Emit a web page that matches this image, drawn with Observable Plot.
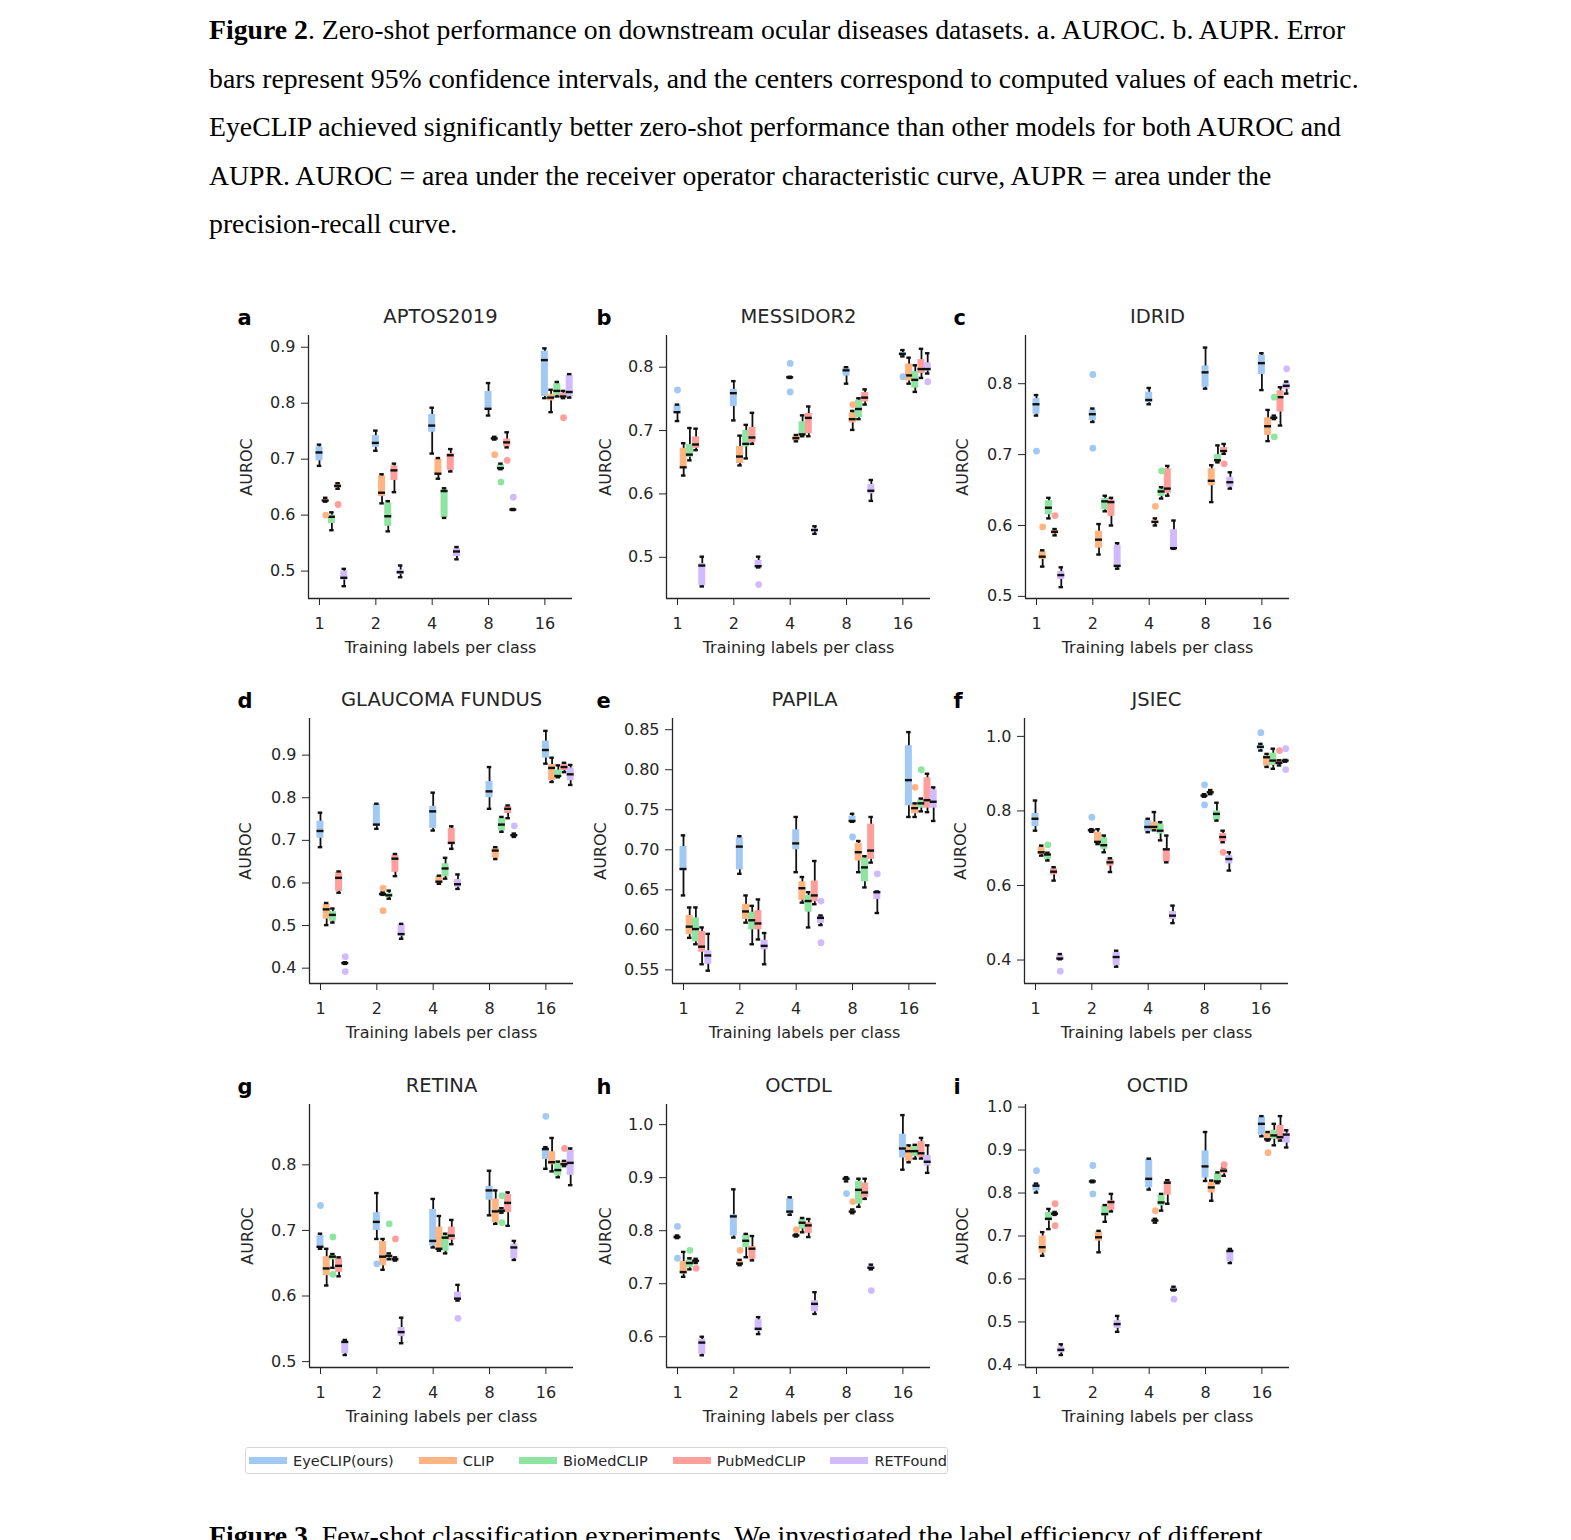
<!DOCTYPE html>
<html>
<head>
<meta charset="utf-8">
<script src="https://cdn.jsdelivr.net/npm/d3@7"></script>
<script src="https://cdn.jsdelivr.net/npm/@observablehq/plot@0.6"></script>
<style>
  html, body { margin: 0; padding: 0; background: #fff; }
  body { width: 1571px; height: 1540px; position: relative; overflow: hidden; }
  .panel { position: absolute; }
  #caption { position: absolute; left: 0; top: 0; }
  #legend { position: absolute; left: 245px; top: 1447px; width: 703px; height: 27px; box-sizing: border-box;
    border: 1px solid #d6d6d6; border-radius: 3px; display: flex; align-items: center; padding-left: 3px; gap: 25px;
    font-family: "DejaVu Sans"; font-size: 14.5px; color: #262626; }
  #legend .item { display: flex; align-items: center; gap: 6px; }
  #legend .sw { width: 38px; height: 7px; }
</style>
</head>
<body>
<svg id="caption" width="1571" height="1540" font-family="Liberation Serif" font-size="27.75" fill="#000">
  <text x="209" y="39"><tspan font-weight="bold">Figure 2</tspan>. Zero-shot performance on downstream ocular diseases datasets. a. AUROC. b. AUPR. Error</text>
  <text x="209" y="88">bars represent 95% confidence intervals, and the centers correspond to computed values of each metric.</text>
  <text x="209" y="136">EyeCLIP achieved significantly better zero-shot performance than other models for both AUROC and</text>
  <text x="209" y="185">AUPR. AUROC = area under the receiver operator characteristic curve, AUPR = area under the</text>
  <text x="209" y="233">precision-recall curve.</text>
  <text x="209" y="1545"><tspan font-weight="bold">Figure 3</tspan>. Few-shot classification experiments. We investigated the label efficiency of different</text>
</svg>
<div id="panels"></div>
<div id="legend"></div>
<script>
// ---------------- data ----------------
const shots = [1, 2, 4, 8, 16];
const models = ["EyeCLIP(ours)", "CLIP", "BioMedCLIP", "PubMedCLIP", "RETFound"];
const modelColors = ["#a1c9f4", "#ffb482", "#8de5a1", "#ff9f9b", "#d0bbff"];
const datasetNames = ["APTOS2019", "MESSIDOR2", "IDRID", "GLAUCOMA FUNDUS", "PAPILA", "JSIEC", "RETINA", "OCTDL", "OCTID"];
const panelLetters = ["a", "b", "c", "d", "e", "f", "g", "h", "i"];
const yLabel = "AUROC";
const xLabel = "Training labels per class";

// rows: shot 1..16, each 5 models; [whisker low, q1, median, q3, whisker high, [outliers]]
const aptos2019 = [
  [0.688, 0.697, 0.712, 0.722, 0.726], [0.624, 0.625, 0.626, 0.628, 0.631, [0.600]], [0.573, 0.585, 0.597, 0.600, 0.605], [0.647, 0.649, 0.652, 0.655, 0.657, [0.619]], [0.473, 0.484, 0.488, 0.500, 0.504],
  [0.715, 0.721, 0.729, 0.742, 0.751], [0.621, 0.633, 0.640, 0.670, 0.673], [0.571, 0.580, 0.598, 0.622, 0.625], [0.641, 0.662, 0.680, 0.688, 0.692], [0.489, 0.494, 0.498, 0.502, 0.510],
  [0.710, 0.748, 0.760, 0.780, 0.792], [0.665, 0.672, 0.674, 0.700, 0.702], [0.595, 0.596, 0.643, 0.645, 0.648], [0.678, 0.680, 0.707, 0.710, 0.718], [0.521, 0.526, 0.535, 0.540, 0.543],
  [0.778, 0.789, 0.790, 0.821, 0.836], [0.735, 0.736, 0.737, 0.739, 0.740, [0.708]], [0.682, 0.683, 0.684, 0.690, 0.692, [0.659]], [0.721, 0.722, 0.730, 0.736, 0.748, [0.698]], [0.609, 0.609, 0.610, 0.610, 0.611, [0.632]],
  [0.809, 0.812, 0.877, 0.893, 0.898], [0.784, 0.804, 0.810, 0.816, 0.824], [0.812, 0.814, 0.822, 0.835, 0.838], [0.809, 0.810, 0.812, 0.818, 0.822, [0.774]], [0.810, 0.812, 0.820, 0.850, 0.852]
];
const messidor2 = [
  [0.715, 0.728, 0.729, 0.740, 0.741, [0.764]], [0.629, 0.640, 0.642, 0.672, 0.680], [0.653, 0.658, 0.662, 0.678, 0.704], [0.669, 0.672, 0.678, 0.690, 0.703], [0.454, 0.455, 0.487, 0.490, 0.501],
  [0.716, 0.738, 0.759, 0.765, 0.778], [0.645, 0.648, 0.659, 0.675, 0.692], [0.656, 0.674, 0.679, 0.700, 0.709], [0.679, 0.681, 0.689, 0.705, 0.728], [0.484, 0.485, 0.486, 0.495, 0.501, [0.457]],
  [0.783, 0.783, 0.784, 0.785, 0.785, [0.806, 0.761]], [0.683, 0.684, 0.688, 0.691, 0.693], [0.691, 0.693, 0.694, 0.714, 0.724], [0.691, 0.695, 0.720, 0.727, 0.738], [0.537, 0.540, 0.543, 0.545, 0.549],
  [0.774, 0.786, 0.795, 0.799, 0.800], [0.701, 0.712, 0.718, 0.728, 0.731, [0.741]], [0.718, 0.720, 0.734, 0.748, 0.751], [0.741, 0.745, 0.752, 0.760, 0.765], [0.589, 0.600, 0.605, 0.615, 0.622],
  [0.817, 0.818, 0.821, 0.823, 0.827, [0.785]], [0.774, 0.778, 0.787, 0.805, 0.815], [0.761, 0.767, 0.780, 0.793, 0.803], [0.783, 0.790, 0.797, 0.812, 0.829], [0.790, 0.794, 0.797, 0.807, 0.822, [0.777]]
];
const idrid = [
  [0.755, 0.757, 0.771, 0.779, 0.784, [0.705]], [0.542, 0.552, 0.556, 0.563, 0.565, [0.598]], [0.610, 0.615, 0.625, 0.635, 0.639], [0.586, 0.588, 0.591, 0.593, 0.595, [0.614]], [0.513, 0.524, 0.530, 0.535, 0.541],
  [0.746, 0.748, 0.757, 0.763, 0.765, [0.813, 0.709]], [0.559, 0.568, 0.580, 0.592, 0.602], [0.620, 0.622, 0.634, 0.638, 0.642], [0.600, 0.613, 0.633, 0.636, 0.639], [0.539, 0.541, 0.543, 0.572, 0.575],
  [0.771, 0.773, 0.777, 0.788, 0.794], [0.600, 0.603, 0.605, 0.607, 0.610, [0.627]], [0.638, 0.641, 0.648, 0.651, 0.654, [0.677]], [0.642, 0.645, 0.652, 0.680, 0.684], [0.567, 0.567, 0.568, 0.594, 0.607],
  [0.793, 0.795, 0.816, 0.825, 0.851], [0.633, 0.656, 0.663, 0.680, 0.685], [0.689, 0.690, 0.692, 0.700, 0.713], [0.701, 0.703, 0.705, 0.710, 0.715, [0.687]], [0.652, 0.654, 0.661, 0.668, 0.675],
  [0.791, 0.813, 0.829, 0.840, 0.843], [0.719, 0.727, 0.740, 0.752, 0.763], [0.750, 0.751, 0.752, 0.753, 0.755, [0.781, 0.725]], [0.741, 0.760, 0.781, 0.790, 0.795], [0.786, 0.792, 0.797, 0.801, 0.803, [0.821]]
];
const glaucomaFundus = [
  [0.684, 0.705, 0.722, 0.745, 0.765], [0.501, 0.515, 0.538, 0.550, 0.553], [0.507, 0.510, 0.525, 0.533, 0.540], [0.577, 0.580, 0.612, 0.625, 0.627], [0.410, 0.411, 0.412, 0.413, 0.414, [0.427, 0.392]],
  [0.727, 0.733, 0.737, 0.785, 0.786], [0.572, 0.573, 0.574, 0.576, 0.578, [0.588, 0.535]], [0.563, 0.566, 0.571, 0.576, 0.582], [0.616, 0.625, 0.657, 0.665, 0.668], [0.469, 0.475, 0.480, 0.502, 0.504],
  [0.723, 0.728, 0.768, 0.780, 0.812], [0.598, 0.600, 0.603, 0.615, 0.617], [0.610, 0.615, 0.634, 0.645, 0.659], [0.680, 0.690, 0.694, 0.728, 0.733], [0.586, 0.590, 0.597, 0.608, 0.620],
  [0.774, 0.800, 0.815, 0.838, 0.872], [0.656, 0.658, 0.676, 0.682, 0.684], [0.720, 0.722, 0.737, 0.752, 0.755], [0.752, 0.763, 0.774, 0.780, 0.782], [0.708, 0.709, 0.712, 0.714, 0.716, [0.734]],
  [0.880, 0.893, 0.912, 0.933, 0.957], [0.837, 0.840, 0.870, 0.878, 0.894], [0.848, 0.849, 0.851, 0.865, 0.876], [0.860, 0.864, 0.872, 0.879, 0.882], [0.830, 0.840, 0.855, 0.870, 0.877]
];
const papila = [
  [0.643, 0.674, 0.676, 0.704, 0.718], [0.590, 0.594, 0.604, 0.618, 0.628], [0.582, 0.585, 0.601, 0.615, 0.628], [0.557, 0.572, 0.579, 0.598, 0.603], [0.549, 0.557, 0.568, 0.574, 0.595],
  [0.670, 0.675, 0.704, 0.715, 0.717], [0.609, 0.613, 0.623, 0.632, 0.643], [0.582, 0.600, 0.612, 0.622, 0.630], [0.588, 0.600, 0.608, 0.624, 0.638], [0.557, 0.575, 0.580, 0.587, 0.596],
  [0.672, 0.700, 0.708, 0.725, 0.741], [0.634, 0.637, 0.652, 0.660, 0.666], [0.603, 0.622, 0.636, 0.643, 0.647], [0.632, 0.635, 0.643, 0.661, 0.686], [0.606, 0.608, 0.615, 0.617, 0.618, [0.636, 0.584]],
  [0.735, 0.736, 0.736, 0.742, 0.745, [0.716]], [0.672, 0.686, 0.697, 0.708, 0.711], [0.653, 0.660, 0.678, 0.690, 0.692], [0.684, 0.688, 0.699, 0.732, 0.741], [0.621, 0.638, 0.647, 0.648, 0.648, [0.670]],
  [0.741, 0.755, 0.787, 0.830, 0.847], [0.741, 0.745, 0.752, 0.756, 0.758, [0.778]], [0.748, 0.752, 0.758, 0.762, 0.764, [0.800]], [0.747, 0.752, 0.762, 0.790, 0.795], [0.736, 0.752, 0.760, 0.775, 0.778]
];
const jsiec = [
  [0.747, 0.758, 0.779, 0.793, 0.828], [0.680, 0.683, 0.689, 0.703, 0.707], [0.667, 0.670, 0.683, 0.686, 0.688, [0.709]], [0.613, 0.628, 0.637, 0.645, 0.649], [0.402, 0.403, 0.404, 0.412, 0.416, [0.370]],
  [0.744, 0.746, 0.748, 0.750, 0.751, [0.783]], [0.711, 0.714, 0.717, 0.743, 0.751], [0.689, 0.697, 0.708, 0.728, 0.734], [0.636, 0.652, 0.662, 0.670, 0.673], [0.382, 0.385, 0.408, 0.420, 0.425],
  [0.743, 0.745, 0.757, 0.775, 0.779], [0.748, 0.750, 0.757, 0.770, 0.797], [0.721, 0.738, 0.747, 0.765, 0.770], [0.662, 0.663, 0.697, 0.699, 0.734], [0.499, 0.509, 0.519, 0.530, 0.546],
  [0.838, 0.839, 0.841, 0.843, 0.845, [0.870, 0.816]], [0.845, 0.847, 0.850, 0.853, 0.856], [0.774, 0.776, 0.792, 0.800, 0.822], [0.716, 0.718, 0.730, 0.740, 0.747, [0.689]], [0.640, 0.658, 0.671, 0.680, 0.689],
  [0.962, 0.965, 0.972, 0.976, 0.980, [1.010]], [0.918, 0.920, 0.944, 0.948, 0.953], [0.913, 0.922, 0.935, 0.955, 0.967], [0.922, 0.925, 0.929, 0.934, 0.936, [0.962]], [0.932, 0.933, 0.935, 0.936, 0.937, [0.967, 0.911]]
];
const retina = [
  [0.672, 0.674, 0.675, 0.692, 0.695, [0.738]], [0.616, 0.631, 0.642, 0.660, 0.672], [0.643, 0.655, 0.660, 0.662, 0.664, [0.690, 0.633]], [0.630, 0.636, 0.646, 0.657, 0.659], [0.510, 0.512, 0.530, 0.531, 0.533],
  [0.687, 0.700, 0.713, 0.727, 0.757, [0.649]], [0.640, 0.646, 0.660, 0.683, 0.687], [0.656, 0.658, 0.661, 0.663, 0.665, [0.710]], [0.654, 0.655, 0.656, 0.658, 0.659, [0.687]], [0.528, 0.538, 0.545, 0.552, 0.567],
  [0.674, 0.676, 0.684, 0.732, 0.748], [0.669, 0.670, 0.672, 0.705, 0.722], [0.665, 0.668, 0.689, 0.692, 0.695], [0.679, 0.685, 0.692, 0.705, 0.716], [0.593, 0.594, 0.596, 0.606, 0.617, [0.566]],
  [0.723, 0.746, 0.761, 0.767, 0.791], [0.710, 0.712, 0.729, 0.748, 0.761], [0.727, 0.728, 0.730, 0.732, 0.734, [0.753, 0.712]], [0.707, 0.727, 0.742, 0.755, 0.758], [0.655, 0.657, 0.674, 0.679, 0.684],
  [0.794, 0.808, 0.824, 0.826, 0.827, [0.874]], [0.790, 0.800, 0.804, 0.820, 0.841], [0.781, 0.783, 0.792, 0.802, 0.805], [0.798, 0.799, 0.801, 0.804, 0.806, [0.825]], [0.769, 0.784, 0.803, 0.822, 0.825]
];
const octdl = [
  [0.786, 0.787, 0.788, 0.790, 0.791, [0.808, 0.748]], [0.713, 0.718, 0.722, 0.742, 0.760], [0.727, 0.730, 0.739, 0.745, 0.748, [0.763]], [0.739, 0.741, 0.743, 0.745, 0.747, [0.729]], [0.565, 0.567, 0.589, 0.595, 0.600],
  [0.787, 0.790, 0.827, 0.830, 0.878], [0.735, 0.736, 0.738, 0.742, 0.745, [0.763]], [0.750, 0.768, 0.781, 0.792, 0.794], [0.744, 0.746, 0.766, 0.770, 0.790], [0.605, 0.610, 0.615, 0.632, 0.637],
  [0.830, 0.832, 0.836, 0.860, 0.863], [0.789, 0.790, 0.791, 0.792, 0.793, [0.802]], [0.797, 0.803, 0.815, 0.821, 0.824], [0.788, 0.795, 0.810, 0.815, 0.822], [0.643, 0.647, 0.662, 0.668, 0.684],
  [0.893, 0.895, 0.898, 0.900, 0.901, [0.870]], [0.833, 0.835, 0.836, 0.838, 0.840, [0.855]], [0.845, 0.850, 0.877, 0.893, 0.898], [0.860, 0.862, 0.872, 0.890, 0.898], [0.727, 0.728, 0.730, 0.733, 0.736, [0.687]],
  [0.915, 0.937, 0.955, 0.982, 1.018], [0.929, 0.931, 0.950, 0.957, 0.961], [0.936, 0.940, 0.950, 0.961, 0.962], [0.936, 0.938, 0.946, 0.968, 0.975], [0.909, 0.922, 0.930, 0.942, 0.961]
];
const octid = [
  [0.801, 0.805, 0.817, 0.820, 0.822, [0.852]], [0.654, 0.660, 0.674, 0.700, 0.709], [0.716, 0.735, 0.740, 0.755, 0.763], [0.749, 0.750, 0.752, 0.754, 0.756, [0.775, 0.724]], [0.423, 0.428, 0.435, 0.442, 0.448],
  [0.825, 0.826, 0.827, 0.828, 0.829, [0.864, 0.798]], [0.662, 0.688, 0.697, 0.710, 0.712], [0.733, 0.747, 0.751, 0.770, 0.772], [0.757, 0.760, 0.779, 0.782, 0.798], [0.477, 0.485, 0.495, 0.503, 0.514],
  [0.808, 0.812, 0.833, 0.878, 0.880], [0.731, 0.733, 0.736, 0.738, 0.740, [0.759]], [0.759, 0.770, 0.778, 0.795, 0.798], [0.775, 0.795, 0.824, 0.828, 0.830], [0.573, 0.574, 0.575, 0.580, 0.582, [0.553]],
  [0.828, 0.835, 0.862, 0.898, 0.942], [0.782, 0.800, 0.813, 0.825, 0.829], [0.823, 0.826, 0.827, 0.845, 0.848], [0.840, 0.845, 0.852, 0.858, 0.860, [0.866]], [0.637, 0.640, 0.665, 0.668, 0.670],
  [0.932, 0.935, 0.961, 0.977, 0.979], [0.922, 0.924, 0.925, 0.940, 0.942, [0.894]], [0.911, 0.925, 0.934, 0.946, 0.961], [0.922, 0.924, 0.930, 0.957, 0.979], [0.906, 0.916, 0.936, 0.939, 0.946]
];
const panelData = [aptos2019, messidor2, idrid, glaucomaFundus, papila, jsiec, retina, octdl, octid];
const yDomains = [[0.451, 0.921], [0.435, 0.85], [0.497, 0.868], [0.364, 0.986], [0.533, 0.864], [0.337, 1.048], [0.491, 0.892], [0.542, 1.038], [0.394, 1.006]];
const yTicks = [
  [0.5, 0.6, 0.7, 0.8, 0.9], [0.5, 0.6, 0.7, 0.8], [0.5, 0.6, 0.7, 0.8],
  [0.4, 0.5, 0.6, 0.7, 0.8, 0.9], [0.55, 0.6, 0.65, 0.7, 0.75, 0.8, 0.85], [0.4, 0.6, 0.8, 1.0],
  [0.5, 0.6, 0.7, 0.8], [0.6, 0.7, 0.8, 0.9, 1.0], [0.4, 0.5, 0.6, 0.7, 0.8, 0.9, 1.0]
];
const yFormats = [".1f", ".1f", ".1f", ".1f", ".2f", ".1f", ".1f", ".1f", ".1f"];

// ---------------- layout ----------------
const frameLeft = [308, 666, 1025, 309, 672, 1024, 309, 666, 1025];
const frameTop = [335, 335, 335, 718, 718, 718, 1104, 1104, 1104];
const frameH = [263, 263, 263, 265, 265, 265, 263, 263, 263];
const letterX = [237, 596, 953];
const labelDx = [-62, -61, -63, -64, -72, -64, -62, -61, -63];
const FW = 264, ML = 90, MR = 10, MT = 45, MB = 70;
const STEP = 0.11, HALF = 0.062, CAP = 0.04;
const X0 = -0.195, X1 = 4.49;

const container = document.getElementById("panels");
panelData.forEach((arr, p) => {
  const rows = arr.map((r, k) => ({
    shot: Math.floor(k / 5), mi: k % 5, model: models[k % 5],
    lo: r[0], q1: r[1], med: r[2], q3: r[3], hi: r[4], out: r[5] || []
  }));
  const outs = rows.flatMap(d => d.out.map(v => ({...d, v})));
  const pos = d => d.shot + d.mi * STEP;
  const fmt = d3.format(yFormats[p]);
  const chart = Plot.plot({
    width: ML + FW + MR, height: MT + frameH[p] + MB,
    marginLeft: ML, marginRight: MR, marginTop: MT, marginBottom: MB,
    style: {fontFamily: "DejaVu Sans", fontSize: "16px", color: "#262626", background: "transparent", overflow: "visible"},
    x: {domain: [X0, X1], ticks: [0, 1, 2, 3, 4], tickFormat: i => String(shots[i]), tickSize: 7, tickPadding: 12, label: null},
    y: {domain: yDomains[p], ticks: yTicks[p], tickFormat: fmt, tickSize: 7, tickPadding: 6, label: null},
    color: {domain: models, range: modelColors},
    marks: [
      Plot.ruleX([X0], {stroke: "#262626", strokeWidth: 1.3}),
      Plot.ruleY([yDomains[p][0]], {stroke: "#262626", strokeWidth: 1.3}),
      Plot.ruleX(rows, {x: pos, y1: "lo", y2: "hi", stroke: "#111", strokeWidth: 1.8}),
      Plot.rect(rows, {x1: d => pos(d) - HALF, x2: d => pos(d) + HALF, y1: "q1", y2: "q3", fill: "model"}),
      Plot.ruleY(rows, {y: "med", x1: d => pos(d) - HALF, x2: d => pos(d) + HALF, stroke: "#111", strokeWidth: 2.4}),
      Plot.ruleY(rows, {y: "lo", x1: d => pos(d) - CAP, x2: d => pos(d) + CAP, stroke: "#111", strokeWidth: 2.4}),
      Plot.ruleY(rows, {y: "hi", x1: d => pos(d) - CAP, x2: d => pos(d) + CAP, stroke: "#111", strokeWidth: 2.4}),
      Plot.dot(outs, {x: pos, y: "v", fill: "model", r: 3.4}),
      Plot.text([datasetNames[p]], {text: d => d, frameAnchor: "top", lineAnchor: "middle", textAnchor: "middle", dy: -19, fontSize: 19.5}),
      Plot.text([panelLetters[p]], {text: d => d, frameAnchor: "top-left", lineAnchor: "middle", textAnchor: "start", dx: letterX[p % 3] - frameLeft[p], dy: -17, fontSize: 21, fontWeight: "bold", fill: "#000"}),
      Plot.text([yLabel], {text: d => d, frameAnchor: "left", lineAnchor: "middle", textAnchor: "middle", dx: labelDx[p], rotate: -90, fontSize: 16}),
      Plot.text([xLabel], {text: d => d, frameAnchor: "bottom", lineAnchor: "middle", textAnchor: "middle", dy: 49, fontSize: 16})
    ]
  });
  const div = document.createElement("div");
  div.className = "panel";
  div.style.left = (frameLeft[p] - ML) + "px";
  div.style.top = (frameTop[p] - MT) + "px";
  div.appendChild(chart);
  container.appendChild(div);
});

// legend
const legend = document.getElementById("legend");
models.forEach((m, i) => {
  const item = document.createElement("span");
  item.className = "item";
  const sw = document.createElement("span");
  sw.className = "sw";
  sw.style.background = modelColors[i];
  const t = document.createElement("span");
  t.textContent = m;
  item.appendChild(sw);
  item.appendChild(t);
  legend.appendChild(item);
});
</script>
</body>
</html>
